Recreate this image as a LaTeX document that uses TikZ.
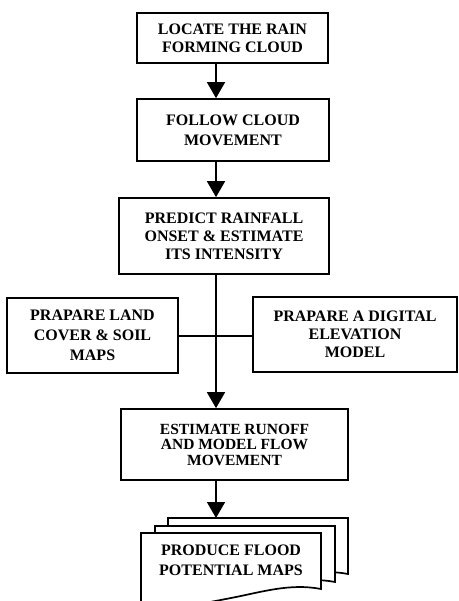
\documentclass[tikz,border=0pt]{standalone}
\usepackage{fontspec}
\setmainfont{Liberation Serif}
\usetikzlibrary{arrows.meta}

\begin{document}
\begin{tikzpicture}[x=1pt,y=-1pt,
  stepbox/.style={draw,line width=1.7pt,inner sep=0pt,align=center,
    font=\bfseries\fontsize{16}{18}\selectfont},
  conn/.style={line width=1.7pt},
  arr/.style={conn,-{Triangle[width=18pt,length=16pt]}},
  sheet/.style={draw,fill=white,line width=1.7pt,line join=miter}]

  \useasboundingbox (0,0) rectangle (458,601);

  % main column of the flow
  \coordinate (spine) at (216,0);
  \coordinate (hline) at (216,336);

  \node[stepbox,minimum width=191pt,minimum height=50pt] (locate) at (232.5,38)
    {LOCATE THE RAIN\\FORMING CLOUD};
  \node[stepbox,minimum width=192pt,minimum height=62pt,
        font=\bfseries\fontsize{16}{20}\selectfont] (follow) at (233,130)
    {FOLLOW CLOUD\\MOVEMENT};
  \node[stepbox,minimum width=210pt,minimum height=76pt] (predict) at (224,236)
    {PREDICT RAINFALL\\ONSET \& ESTIMATE\\ITS INTENSITY};
  \node[stepbox,minimum width=171pt,minimum height=75pt,
        font=\bfseries\fontsize{16}{20}\selectfont] (land) at (92.5,335.5)
    {PRAPARE LAND\\COVER \& SOIL\\MAPS};
  \node[stepbox,minimum width=204pt,minimum height=75pt] (dem) at (355,334.5)
    {PRAPARE A DIGITAL\\ELEVATION\\MODEL};
  \node[stepbox,minimum width=227pt,minimum height=71pt,
        font=\bfseries\fontsize{15.5}{15.5}\selectfont] (runoff) at (234.5,444.5)
    {ESTIMATE RUNOFF\\AND MODEL FLOW\\MOVEMENT};

  % stacked document sheets for the final output
  \foreach \dx/\dy in {27/-15,14/-7,0/0}{
    \begin{scope}[shift={(\dx,\dy)}]
      \draw[sheet] (141,533) -- (321,533) -- (321,589)
        .. controls (290,583) and (262,592) .. (231,598)
        .. controls (200,604) and (170,610) .. (141,608) -- cycle;
    \end{scope}
  }
  \coordinate (doctop) at (216,518);
  \node[align=center,inner sep=0pt,font=\bfseries\fontsize{16}{20}\selectfont]
    (flood) at (231,560) {PRODUCE FLOOD\\POTENTIAL MAPS};

  % connectors
  \draw[arr] (locate.south -| spine) -- (follow.north -| spine);
  \draw[arr] (follow.south -| spine) -- (predict.north -| spine);
  \draw[arr] (predict.south -| spine) -- (runoff.north -| spine);
  \draw[conn] (land.east |- hline) -- (dem.west |- hline);
  \draw[arr] (runoff.south -| spine) -- (doctop);
\end{tikzpicture}
\end{document}
